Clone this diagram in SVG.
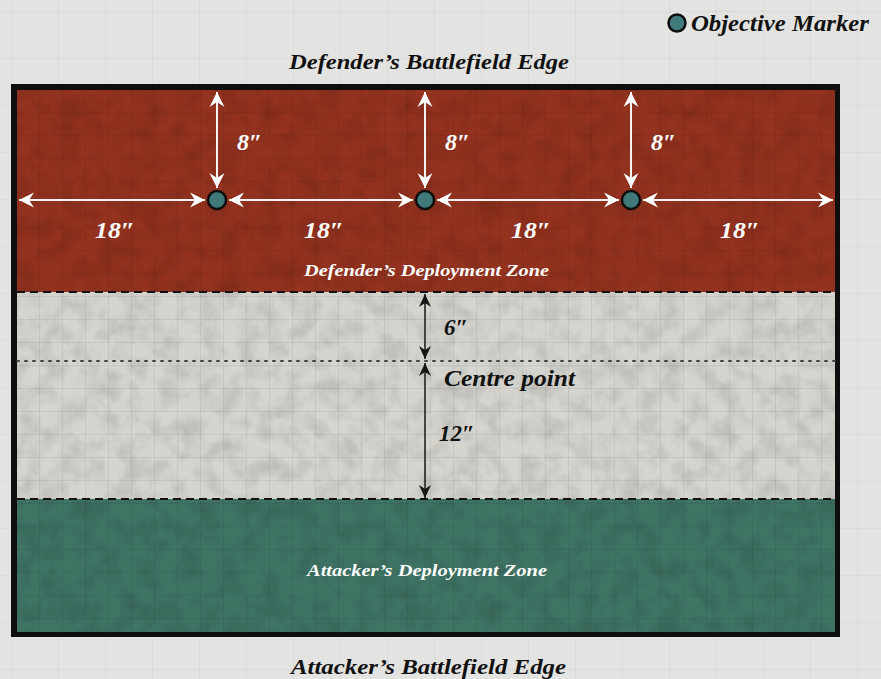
<svg xmlns="http://www.w3.org/2000/svg" width="881" height="679" viewBox="0 0 881 679">
<defs>
<style>
.t{font-family:"Liberation Serif","Times New Roman",serif;font-style:italic;font-weight:bold;}
.blk{fill:#111;}
.wht{fill:#fff;}
.wline{stroke:#f4f4f4;stroke-width:2;fill:none;}
.bline{stroke:#222;stroke-width:1.6;fill:none;}
.obj{fill:#3f7b7b;stroke:#0d0d0d;stroke-width:2.5;}
</style>
<pattern id="bggrid" width="47" height="47" patternUnits="userSpaceOnUse" x="12" y="12">
<path d="M47 0V47M0 47H47" stroke="#d2d2cf" stroke-width="1" fill="none"/>
</pattern>
<pattern id="grid" width="23" height="23" patternUnits="userSpaceOnUse" x="17" y="90">
<path d="M23 0V23M0 23H23" stroke="#000" stroke-opacity="0.12" stroke-width="1" fill="none"/>
</pattern>
<filter id="grunge" x="0" y="0" width="100%" height="100%">
<feTurbulence type="fractalNoise" baseFrequency="0.05" numOctaves="4" seed="3"/>
<feColorMatrix values="0 0 0 0 0  0 0 0 0 0  0 0 0 0 0  0 0 0 -1.6 1.0"/>
</filter>
<marker id="wa" viewBox="-15 -8 16 16" refX="0" refY="0" markerWidth="16" markerHeight="16" markerUnits="userSpaceOnUse" orient="auto-start-reverse">
<path d="M0 0L-15 -7.5L-10 0L-15 7.5Z" fill="#fff"/>
</marker>
<marker id="ba" viewBox="-13 -7 14 14" refX="0" refY="0" markerWidth="14" markerHeight="14" markerUnits="userSpaceOnUse" orient="auto-start-reverse">
<path d="M0 0L-13 -6L-9 0L-13 6Z" fill="#151515"/>
</marker>
</defs>

<rect width="881" height="679" fill="#e3e3e1"/>
<rect width="881" height="679" fill="url(#bggrid)"/>

<g id="board">
<rect x="11" y="84" width="829" height="553" fill="#0e0e0e"/>
<rect x="17" y="90" width="818" height="202" fill="#93321f"/>
<rect x="17" y="292" width="818" height="207" fill="#d5d4cf"/>
<rect x="17" y="499" width="818" height="133" fill="#3f7465"/>
<rect x="17" y="90" width="818" height="542" fill="url(#grid)"/>
<rect x="17" y="90" width="818" height="542" filter="url(#grunge)" opacity="0.14"/>
</g>

<g id="zone-lines">
<line x1="17" y1="292" x2="835" y2="292" stroke="#111" stroke-width="2.2" stroke-dasharray="8 5"/>
<line x1="17" y1="499" x2="835" y2="499" stroke="#111" stroke-width="2.2" stroke-dasharray="8 5"/>
<line x1="17" y1="361" x2="835" y2="361" stroke="#444" stroke-width="2" stroke-dasharray="2 6" stroke-linecap="round"/>
</g>

<g id="connectors">
<line class="wline" x1="217" y1="92" x2="217" y2="188" marker-start="url(#wa)" marker-end="url(#wa)"/>
<line class="wline" x1="425" y1="92" x2="425" y2="188" marker-start="url(#wa)" marker-end="url(#wa)"/>
<line class="wline" x1="631" y1="92" x2="631" y2="188" marker-start="url(#wa)" marker-end="url(#wa)"/>
<line class="wline" x1="19" y1="200" x2="205" y2="200" marker-start="url(#wa)" marker-end="url(#wa)"/>
<line class="wline" x1="229" y1="200" x2="413" y2="200" marker-start="url(#wa)" marker-end="url(#wa)"/>
<line class="wline" x1="437" y1="200" x2="619" y2="200" marker-start="url(#wa)" marker-end="url(#wa)"/>
<line class="wline" x1="643" y1="200" x2="833" y2="200" marker-start="url(#wa)" marker-end="url(#wa)"/>
<line class="bline" x1="425" y1="294" x2="425" y2="359" marker-start="url(#ba)" marker-end="url(#ba)"/>
<line class="bline" x1="425" y1="363" x2="425" y2="498" marker-start="url(#ba)" marker-end="url(#ba)"/>
</g>

<g id="marker1"><circle class="obj" cx="217" cy="200" r="9"/></g>
<g id="marker2"><circle class="obj" cx="425" cy="200" r="9"/></g>
<g id="marker3"><circle class="obj" cx="631" cy="200" r="9"/></g>

<g id="legend">
<circle class="obj" cx="677" cy="23" r="8.5"/>
<text class="t blk" x="691" y="31" font-size="23" textLength="178" lengthAdjust="spacingAndGlyphs">Objective Marker</text>
</g>

<g id="labels">
<text class="t blk" x="289" y="69" font-size="22" textLength="280" lengthAdjust="spacingAndGlyphs">Defender’s Battlefield Edge</text>
<text class="t blk" x="291" y="674" font-size="22" textLength="275" lengthAdjust="spacingAndGlyphs">Attacker’s Battlefield Edge</text>
<text class="t wht" x="237" y="150" font-size="24">8″</text>
<text class="t wht" x="445" y="150" font-size="24">8″</text>
<text class="t wht" x="651" y="150" font-size="24">8″</text>
<text class="t wht" x="95" y="238" font-size="24" textLength="40" lengthAdjust="spacingAndGlyphs">18″</text>
<text class="t wht" x="304" y="238" font-size="24" textLength="40" lengthAdjust="spacingAndGlyphs">18″</text>
<text class="t wht" x="511" y="238" font-size="24" textLength="40" lengthAdjust="spacingAndGlyphs">18″</text>
<text class="t wht" x="720" y="238" font-size="24" textLength="40" lengthAdjust="spacingAndGlyphs">18″</text>
<text class="t wht" x="304" y="276" font-size="17" textLength="245" lengthAdjust="spacingAndGlyphs">Defender’s Deployment Zone</text>
<text class="t wht" x="307" y="576" font-size="17" textLength="240" lengthAdjust="spacingAndGlyphs">Attacker’s Deployment Zone</text>
<text class="t blk" x="444" y="335" font-size="23">6″</text>
<text class="t blk" x="444" y="386" font-size="23" textLength="131" lengthAdjust="spacingAndGlyphs">Centre point</text>
<text class="t blk" x="439" y="441" font-size="23">12″</text>
</g>
</svg>
